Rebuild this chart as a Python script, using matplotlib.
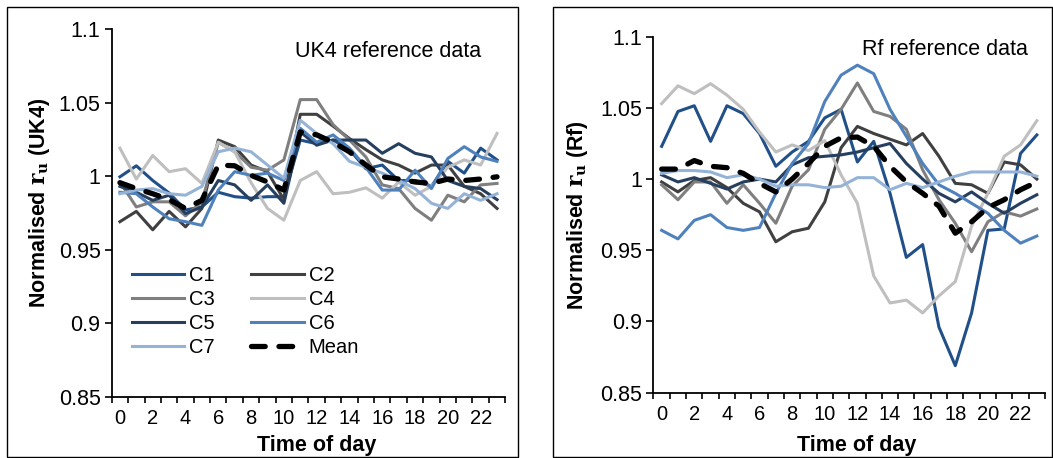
import matplotlib
matplotlib.use('Agg')
import matplotlib.pyplot as plt
from matplotlib.patches import Rectangle
import numpy as np

plt.rcParams['font.family'] = ['Liberation Sans', 'DejaVu Sans']
plt.rcParams['mathtext.fontset'] = 'dejavuserif'

hours = list(range(24))
names = ['C1', 'C2', 'C3', 'C4', 'C5', 'C6', 'C7', 'Mean']
colors = ['#215089', '#404040', '#7f7f7f', '#bfbfbf', '#263f5f', '#4f81bd', '#95b3d7', 'black']

# UK4 reference data
uk4_c1 = [0.9995, 1.007, 0.997, 0.9885, 0.977, 0.979, 0.989, 0.986, 0.985, 0.986, 0.986, 1.0245,
          1.022, 1.0245, 1.018, 1.005, 1.0075, 0.997, 0.997, 0.993, 1.010, 1.002, 1.019, 1.011]
uk4_c2 = [0.969, 0.976, 0.9635, 0.976, 0.9655, 0.978, 1.0245, 1.020, 1.0075, 1.003, 0.984, 1.042,
          1.042, 1.034, 1.0255, 1.018, 1.011, 1.0075, 1.002, 1.0075, 1.0075, 0.993, 0.988, 0.978]
uk4_c3 = [0.996, 0.979, 0.9825, 0.9825, 0.973, 0.9825, 1.023, 1.0165, 1.006, 1.004, 1.011, 1.052,
          1.052, 1.035, 1.0245, 1.013, 0.994, 0.9915, 0.978, 0.970, 0.987, 0.9825, 0.994, 0.995]
uk4_c4 = [1.019, 0.998, 1.014, 1.003, 1.005, 0.995, 1.023, 1.0165, 0.9955, 0.978, 0.970, 0.997,
          1.003, 0.988, 0.989, 0.992, 0.985, 0.996, 0.987, 0.993, 1.006, 1.011, 1.0075, 1.029]
uk4_c5 = [0.993, 0.989, 0.9835, 0.987, 0.9745, 0.979, 0.997, 0.994, 0.9835, 0.994, 0.9815, 1.030,
          1.021, 1.0245, 1.0245, 1.0245, 1.0155, 1.022, 1.0155, 1.013, 0.997, 0.993, 0.9915, 0.984]
uk4_c6 = [0.989, 0.988, 0.979, 0.971, 0.969, 0.9665, 0.9905, 1.003, 1.0005, 1.002, 0.997, 1.0325,
          1.023, 1.028, 1.019, 1.006, 0.9905, 0.9905, 1.004, 0.9915, 1.012, 1.020, 1.013, 1.010]
uk4_c7 = [0.988, 0.9905, 0.9915, 0.988, 0.987, 0.993, 1.0165, 1.019, 1.0165, 1.0075, 0.9985, 1.038,
          1.029, 1.022, 1.010, 1.006, 1.002, 0.997, 0.9915, 0.9815, 0.978, 0.988, 0.9835, 0.988]
uk4_mean = [0.9955, 0.9915, 0.988, 0.984, 0.978, 0.9835, 1.0075, 1.007, 1.0005, 0.996, 0.9905, 1.030,
            1.028, 1.023, 1.0165, 1.0075, 0.9995, 0.998, 0.996, 0.995, 0.998, 0.997, 0.998, 0.9995]

# Rf reference data
rf_c1 = [1.023, 1.0475, 1.0515, 1.0265, 1.0515, 1.046, 1.032, 1.009, 1.019, 1.0265, 1.043, 1.049,
         1.012, 1.0265, 0.990, 0.945, 0.954, 0.896, 0.869, 0.906, 0.964, 0.965, 1.018, 1.031]
rf_c2 = [0.998, 0.991, 0.999, 1.001, 0.994, 0.983, 0.977, 0.956, 0.963, 0.9655, 0.984, 1.022,
         1.037, 1.032, 1.028, 1.024, 1.032, 1.016, 0.997, 0.996, 0.990, 1.012, 1.010, 1.000]
rf_c3 = [0.996, 0.9855, 0.998, 0.998, 0.983, 0.996, 0.983, 0.969, 0.995, 1.0065, 1.035, 1.049,
         1.0675, 1.0475, 1.044, 1.035, 1.0065, 0.9855, 0.969, 0.949, 0.970, 0.977, 0.974, 0.979]
rf_c4 = [1.053, 1.0655, 1.060, 1.067, 1.059, 1.049, 1.033, 1.019, 1.024, 1.020, 1.027, 1.003,
         0.983, 0.932, 0.913, 0.915, 0.906, 0.918, 0.928, 0.967, 0.990, 1.016, 1.024, 1.041]
rf_c5 = [1.003, 0.998, 1.001, 0.997, 0.993, 0.998, 1.000, 0.998, 1.010, 1.015, 1.016, 1.017,
         1.019, 1.022, 1.025, 1.011, 1.000, 0.990, 0.984, 0.991, 0.983, 0.976, 0.983, 0.989]
rf_c6 = [0.964, 0.958, 0.971, 0.975, 0.966, 0.964, 0.966, 0.990, 1.011, 1.025, 1.0545, 1.073,
         1.080, 1.074, 1.049, 1.030, 1.011, 0.996, 0.990, 0.983, 0.976, 0.964, 0.955, 0.960]
rf_c7 = [1.004, 1.006, 1.006, 1.005, 1.001, 1.003, 1.000, 0.995, 0.996, 0.996, 0.994, 0.995,
         1.001, 1.001, 0.9925, 0.997, 0.994, 0.998, 1.002, 1.005, 1.005, 1.005, 1.005, 1.002]
rf_mean = [1.007, 1.007, 1.013, 1.009, 1.008, 1.004, 0.997, 0.991, 1.000, 1.011, 1.023, 1.029,
           1.0295, 1.023, 1.009, 0.998, 0.990, 0.981, 0.962, 0.970, 0.980, 0.9855, 0.9925, 0.998]

uk4 = [uk4_c1, uk4_c2, uk4_c3, uk4_c4, uk4_c5, uk4_c6, uk4_c7, uk4_mean]
rf = [rf_c1, rf_c2, rf_c3, rf_c4, rf_c5, rf_c6, rf_c7, rf_mean]

fig = plt.figure(figsize=(10.53, 4.58), dpi=100)
ax1 = fig.add_axes([0.1061, 0.1338, 0.3737, 0.8029])
ax2 = fig.add_axes([0.6206, 0.1426, 0.3718, 0.7773])

# panel frames
fig.patches.append(Rectangle((7/1053, 1/458), 511/1053, 450/458, transform=fig.transFigure,
                             fill=False, edgecolor='black', linewidth=1.0))
fig.patches.append(Rectangle((553/1053, 1/458), 499/1053, 450/458, transform=fig.transFigure,
                             fill=False, edgecolor='black', linewidth=1.0))


def draw(ax, data, label, note, note_xy, ylab_x, ylab_y, xlab_y):
    for vals, name, c in zip(data, names, colors):
        if name == 'Mean':
            ax.plot(hours, vals, color=c, lw=3.8, ls=(0, (2.6, 2.6)), dash_capstyle='round',
                    label=name, zorder=5)
        else:
            ax.plot(hours, vals, color=c, lw=2.2, label=name)
    ax.set_xlim(-0.5, 23.5)
    ax.set_ylim(0.85, 1.1)
    ax.set_yticks([0.85, 0.9, 0.95, 1.0, 1.05, 1.1])
    ax.set_yticklabels(['0.85', '0.9', '0.95', '1', '1.05', '1.1'])
    ax.set_xticks(range(0, 24, 2))
    ax.set_xticks(np.arange(-0.5, 24, 1), minor=True)
    ax.tick_params(axis='x', which='major', length=0, labelsize=14.5, pad=9)
    ax.tick_params(axis='x', which='minor', length=4, width=1.2, direction='out')
    ax.tick_params(axis='y', length=5, width=1.2, labelsize=15.5, pad=3)
    for s in ['top', 'right']:
        ax.spines[s].set_visible(False)
    for s in ['left', 'bottom']:
        ax.spines[s].set_linewidth(1.3)
    ax.set_xlabel('Time of day', fontsize=15.5, fontweight='bold')
    ax.xaxis.set_label_coords(0.52, xlab_y)
    ax.set_ylabel(r'Normalised $\mathbf{r_u}$ (' + label + ')', fontsize=15.5, fontweight='bold')
    ax.yaxis.set_label_coords(ylab_x, ylab_y)
    ax.text(note_xy[0], note_xy[1], note, transform=ax.transAxes, ha='right', va='center',
            fontsize=15.5)


draw(ax1, uk4, 'UK4', 'UK4 reference data', (0.94, 0.9375), -0.152, 0.527, -0.104)
draw(ax2, rf, 'Rf', 'Rf reference data', (0.956, 0.963), -0.162, 0.499, -0.119)

# row-wise legend order: C1 C2 / C3 C4 / C5 C6 / C7 Mean
h, l = ax1.get_legend_handles_labels()
order = [0, 2, 4, 6, 1, 3, 5, 7]
ax1.legend([h[i] for i in order], [l[i] for i in order], loc='upper left',
           bbox_to_anchor=(0.0515, 0.355), ncol=2, frameon=False,
           fontsize=14.5, handlelength=2.6, handletextpad=0.25, columnspacing=1.8,
           labelspacing=0.25, borderaxespad=0, borderpad=0)

fig.savefig('out.png', dpi=100)
